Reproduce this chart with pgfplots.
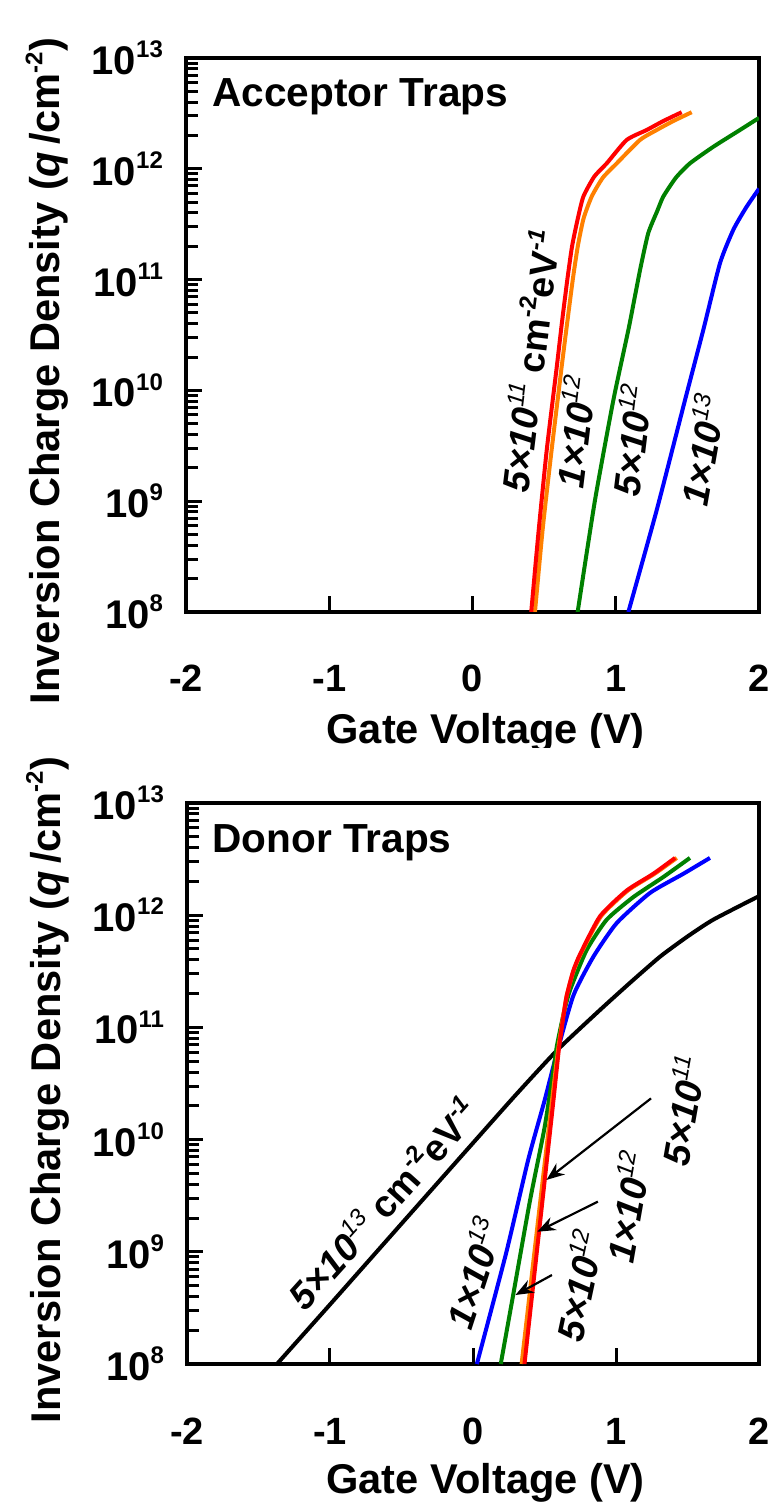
\documentclass[border=0pt]{standalone}
\usepackage{fontspec}
\setmainfont{Liberation Sans}
\usepackage{pgfplots}
\pgfplotsset{compat=1.18}
\usetikzlibrary{arrows.meta}

\definecolor{trapred}{RGB}{255,0,0}
\definecolor{traporange}{RGB}{255,128,0}
\definecolor{trapgreen}{RGB}{0,128,0}
\definecolor{trapblue}{RGB}{0,0,255}

% raised, smaller exponent
\newcommand{\sups}[1]{\raisebox{0.42em}{\fontsize{12}{12}\selectfont #1}}
\newcommand{\bigfont}{\fontsize{18.8}{21}\selectfont\bfseries}
\newcommand{\titlefont}{\fontsize{20.3}{23}\selectfont\bfseries}
\newcommand{\labelfont}{\fontsize{20.8}{23}\selectfont\bfseries}
\newcommand{\xtfont}{\fontsize{19}{21}\selectfont\bfseries}
\newcommand{\ytfont}{\fontsize{20}{22}\selectfont\bfseries}

\begin{document}
\begin{tikzpicture}
\useasboundingbox (0pt,0pt) rectangle (387.5pt,-755pt);

% ---- acceptor traps ----
\begin{scope}
\clip (0pt,0pt) rectangle (387.5pt,-373.5pt);
\begin{axis}[
    at={(93pt,-306pt)}, anchor=south west,
    scale only axis, width=286.5pt, height=277pt,
    xmin=-2, xmax=2, ymode=log, ymin=1e8, ymax=1e13,
    xtick={-2,-1,0,1,2}, xticklabels={-2,-1,0,1,2},
    ytick={1e8,1e9,1e10,1e11,1e12,1e13},
    yticklabels={10\sups{8},10\sups{9},10\sups{10},10\sups{11},10\sups{12},10\sups{13}},
    minor ytick={2e8,3e8,4e8,5e8,6e8,7e8,8e8,9e8,
                 2e9,3e9,4e9,5e9,6e9,7e9,8e9,9e9,
                 2e10,3e10,4e10,5e10,6e10,7e10,8e10,9e10,
                 2e11,3e11,4e11,5e11,6e11,7e11,8e11,9e11,
                 2e12,3e12,4e12,5e12,6e12,7e12,8e12,9e12},
    tick align=inside, xtick pos=left, ytick pos=left,
    major tick length=8pt, minor tick length=6pt,
    tick style={black, line width=1.5pt},
    axis line style={line width=2pt},
    xticklabel style={font=\xtfont, anchor=base, yshift=-40pt},
    yticklabel style={font=\ytfont, anchor=east, xshift=-8pt},
    label style={font=\labelfont},
    xlabel={Gate Voltage (V)},
    ylabel={Inversion Charge Density (\textit{q}\,/cm\sups{-2})},
    xlabel style={at={(rel axis cs:0.523,-0.2365)}, anchor=base},
    ylabel style={at={(rel axis cs:-0.22,0.435)}, anchor=base},
  ]
\addplot[trapblue, line width=2pt, smooth, tension=0.35] coordinates {
 (1.088,1.00e8) (1.286,8.32e8) (1.483,8.13e9) (1.611,3.51e10) (1.728,1.41e11)
 (1.821,2.82e11) (1.910,4.47e11) (2.000,6.61e11)};
\addplot[trapgreen, line width=2pt, smooth, tension=0.35] coordinates {
 (0.734,1.00e8) (0.855,1.02e9) (0.983,8.13e9) (1.088,3.51e10) (1.134,7.08e10)
 (1.175,1.32e11) (1.227,2.63e11) (1.290,4.17e11) (1.332,5.62e11) (1.420,8.32e11)
 (1.518,1.12e12) (1.681,1.58e12) (1.867,2.24e12) (2.000,2.88e12)};
\addplot[traporange, line width=2pt, smooth, tension=0.35] coordinates {
 (0.436,1.00e8) (0.490,5.62e8) (0.552,2.88e9) (0.622,1.62e10) (0.662,4.17e10)
 (0.700,1.00e11) (0.735,2.00e11) (0.775,3.55e11) (0.832,5.62e11) (0.910,8.32e11)
 (1.007,1.12e12) (1.169,1.82e12) (1.286,2.24e12) (1.400,2.69e12) (1.530,3.24e12)};
\addplot[trapred, line width=2pt, smooth, tension=0.35] coordinates {
 (0.410,1.00e8) (0.460,5.13e8) (0.518,2.88e9) (0.588,1.62e10) (0.625,4.17e10)
 (0.662,1.00e11) (0.695,2.00e11) (0.735,3.55e11) (0.774,5.62e11) (0.850,8.51e11)
 (0.937,1.12e12) (1.076,1.82e12) (1.216,2.24e12) (1.330,2.69e12) (1.460,3.24e12)};

\node[font=\titlefont, anchor=base west, inner sep=0pt] at (axis cs:-1.818,3.63e12) {Acceptor Traps};
\node[font=\bigfont, rotate=83] at (axis cs:0.394,1.84e10)
  {{\itshape 5×10\sups{\mdseries 11}} cm\sups{-2}eV\sups{\itshape -1}};
\node[font=\bigfont\itshape, rotate=83] at (axis cs:0.709,4.22e9) {1×10\sups{\mdseries 12}};
\node[font=\bigfont\itshape, rotate=83] at (axis cs:1.105,3.55e9) {5×10\sups{\mdseries 12}};
\node[font=\bigfont\itshape, rotate=80] at (axis cs:1.60,2.88e9) {1×10\sups{\mdseries 13}};
\end{axis}
\end{scope}

% ---- donor traps ----
\begin{axis}[
    at={(93.5pt,-682pt)}, anchor=south west,
    scale only axis, width=286pt, height=280.5pt,
    xmin=-2, xmax=2, ymode=log, ymin=1e8, ymax=1e13,
    xtick={-2,-1,0,1,2}, xticklabels={-2,-1,0,1,2},
    ytick={1e8,1e9,1e10,1e11,1e12,1e13},
    yticklabels={10\sups{8},10\sups{9},10\sups{10},10\sups{11},10\sups{12},10\sups{13}},
    minor ytick={2e8,3e8,4e8,5e8,6e8,7e8,8e8,9e8,
                 2e9,3e9,4e9,5e9,6e9,7e9,8e9,9e9,
                 2e10,3e10,4e10,5e10,6e10,7e10,8e10,9e10,
                 2e11,3e11,4e11,5e11,6e11,7e11,8e11,9e11,
                 2e12,3e12,4e12,5e12,6e12,7e12,8e12,9e12},
    tick align=inside, xtick pos=left, ytick pos=left,
    major tick length=8pt, minor tick length=6pt,
    tick style={black, line width=1.5pt},
    axis line style={line width=2pt},
    xticklabel style={font=\xtfont, anchor=base, yshift=-40pt},
    yticklabel style={font=\ytfont, anchor=east, xshift=-8pt},
    label style={font=\labelfont},
    xlabel={Gate Voltage (V)},
    ylabel={Inversion Charge Density (\textit{q}\,/cm\sups{-2})},
    xlabel style={at={(rel axis cs:0.522,-0.2317)}, anchor=base},
    ylabel style={at={(rel axis cs:-0.2215,0.488)}, anchor=base},
  ]
\addplot[black, line width=2pt, smooth, tension=0.35] coordinates {
 (-1.371,1.00e8) (-1.000,3.39e8) (-0.500,1.78e9) (0.000,9.33e9) (0.300,2.51e10)
 (0.591,6.31e10) (0.888,1.43e11) (1.100,2.51e11) (1.308,4.27e11) (1.500,6.46e11)
 (1.680,9.12e11) (2.000,1.48e12)};
\addplot[trapblue, line width=2pt, smooth, tension=0.35] coordinates {
 (0.027,1.00e8) (0.232,9.77e8) (0.386,6.61e9) (0.501,2.24e10) (0.580,5.50e10)
 (0.701,1.91e11) (0.842,4.27e11) (1.005,8.51e11) (1.238,1.58e12) (1.471,2.34e12)
 (1.657,3.24e12)};
\addplot[trapgreen, line width=2pt, smooth, tension=0.35] coordinates {
 (0.194,1.00e8) (0.283,4.27e8) (0.399,2.88e9) (0.501,1.29e10) (0.566,4.47e10)
 (0.586,6.76e10) (0.630,1.26e11) (0.678,2.14e11) (0.795,4.90e11) (0.935,9.12e11)
 (1.121,1.45e12) (1.331,2.19e12) (1.517,3.24e12)};
\addplot[traporange, line width=2pt, smooth, tension=0.35] coordinates {
 (0.340,1.00e8) (0.465,2.45e9) (0.550,2.09e10) (0.595,6.31e10) (0.628,1.20e11)
 (0.655,1.91e11) (0.702,3.16e11) (0.752,4.47e11) (0.895,9.77e11) (1.083,1.66e12)
 (1.270,2.34e12) (1.425,3.24e12)};
\addplot[trapred, line width=2pt, smooth, tension=0.35] coordinates {
 (0.360,1.00e8) (0.480,2.45e9) (0.560,2.09e10) (0.600,6.31e10) (0.630,1.20e11)
 (0.655,1.91e11) (0.700,3.16e11) (0.748,4.47e11) (0.888,9.77e11) (1.075,1.66e12)
 (1.261,2.34e12) (1.413,3.24e12)};

\node[font=\titlefont, anchor=base west, inner sep=0pt] at (axis cs:-1.825,3.63e12) {Donor Traps};
\node[font=\bigfont, rotate=48] at (axis cs:-0.636,2.72e9)
  {{\itshape 5×10\sups{\mdseries 13}} cm\sups{-2}eV\sups{\itshape -1}};
\node[font=\bigfont\itshape, rotate=72] at (axis cs:0.0,6.46e8) {1×10\sups{\mdseries 13}};
\node[font=\bigfont\itshape, rotate=78] at (axis cs:0.734,5.01e8) {5×10\sups{\mdseries 12}};
\node[font=\bigfont\itshape, rotate=80] at (axis cs:1.077,2.51e9) {1×10\sups{\mdseries 12}};
\node[font=\bigfont\itshape, rotate=80] at (axis cs:1.462,1.82e10) {5×10\sups{\mdseries 11}};

\draw[line width=1.1pt, -{Stealth[length=9pt,width=7pt]}]
  (axis cs:1.245,2.33e10) -- (axis cs:0.514,4.37e9);
\draw[line width=1.1pt, -{Stealth[length=9pt,width=7pt]}]
  (axis cs:0.873,2.80e9) -- (axis cs:0.450,1.51e9);
\draw[line width=1.1pt, -{Stealth[length=9pt,width=7pt]}]
  (axis cs:0.552,6.21e8) -- (axis cs:0.297,4.12e8);
\end{axis}
\end{tikzpicture}
\end{document}
